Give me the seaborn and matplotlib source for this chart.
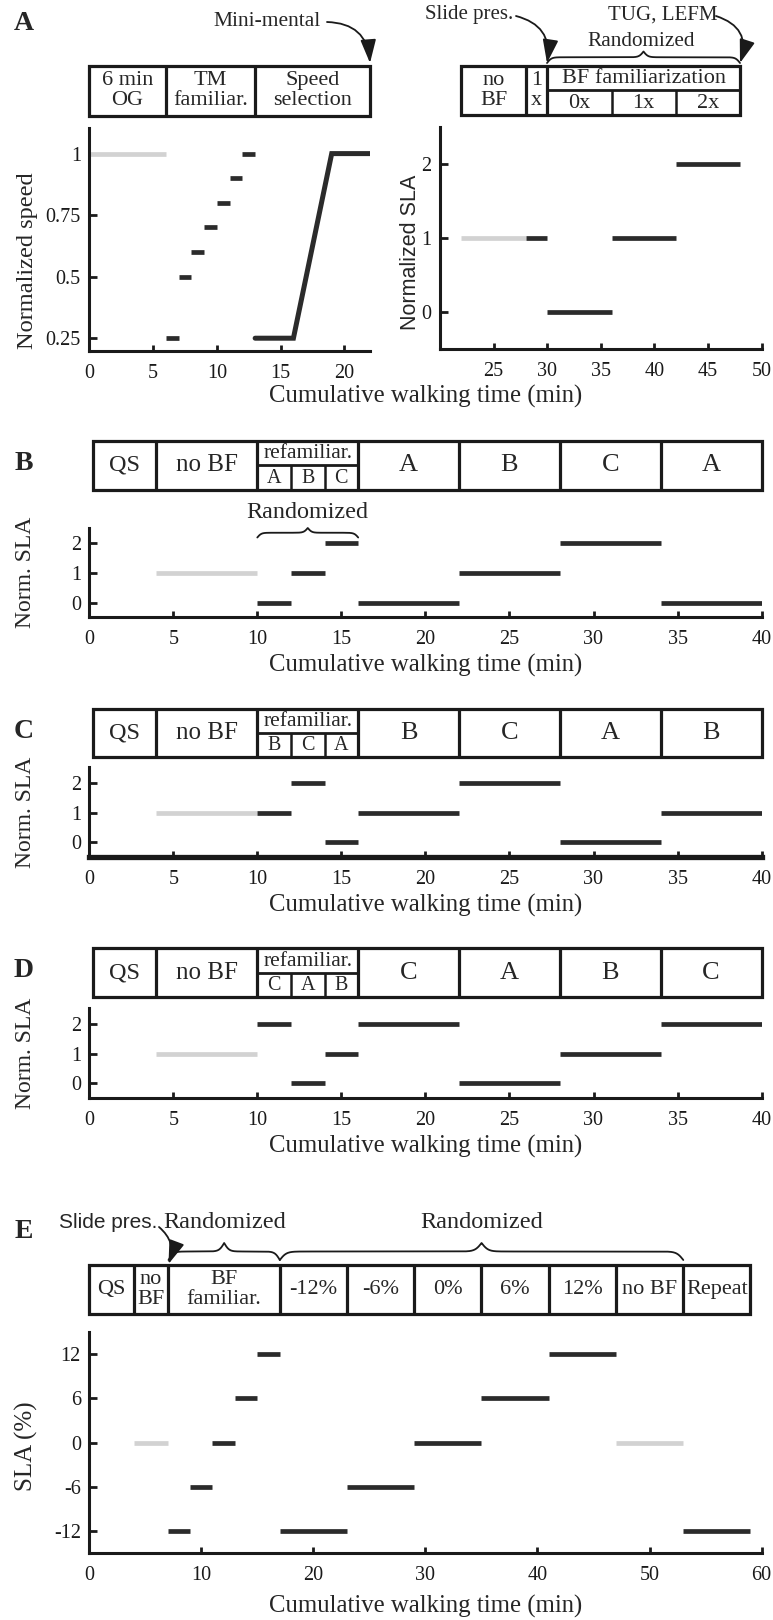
import numpy as np
import pandas as pd
import matplotlib
matplotlib.use("Agg")
import matplotlib.pyplot as plt
from matplotlib.patches import Rectangle
import seaborn as sns

sns.set_theme(style="white")
plt.rcParams['font.family'] = ['Liberation Serif', 'DejaVu Serif']
plt.rcParams['axes.unicode_minus'] = False

# ------------------------------------------------------------------ data
# Panel A (left): normalized speed
a_speed_start = [0, 6, 7, 8, 9, 10, 11, 12]
a_speed_end = [6, 7, 8, 9, 10, 11, 12, 13]
a_speed_level = [1.0, 0.25, 0.5, 0.6, 0.7, 0.8, 0.9, 1.0]
a_speed_kind = ['base', 'bf', 'bf', 'bf', 'bf', 'bf', 'bf', 'bf']
a_sel_time = [13, 16, 19, 22]
a_sel_speed = [0.25, 0.25, 1.0, 1.0]
a1_ticks = [0.25, 0.5, 0.75, 1.0]
a1_ticklabels = ['0.25', '0.5', '0.75', '1']

# Panel A (right): normalized SLA
a_sla_start = [22, 28, 30, 36, 42]
a_sla_end = [28, 30, 36, 42, 48]
a_sla_level = [1, 1, 0, 1, 2]
a_sla_kind = ['base', 'bf', 'bf', 'bf', 'bf']

# Panels B, C, D
bcd_start = [4, 10, 12, 14, 16, 22, 28, 34]
bcd_end = [10, 12, 14, 16, 22, 28, 34, 40]
b_level = [1, 0, 1, 2, 0, 1, 2, 0]
c_level = [1, 1, 2, 0, 1, 2, 0, 1]
d_level = [1, 2, 0, 1, 2, 0, 1, 2]
bcd_kind = ['base', 'bf', 'bf', 'bf', 'bf', 'bf', 'bf', 'bf']

# Panel E
e_start = [4, 7, 9, 11, 13, 15, 17, 23, 29, 35, 41, 47, 53]
e_end = [7, 9, 11, 13, 15, 17, 23, 29, 35, 41, 47, 53, 59]
e_level = [0, -12, -6, 0, 6, 12, -12, -6, 0, 6, 12, 0, -12]
e_kind = ['base', 'bf', 'bf', 'bf', 'bf', 'bf', 'bf', 'bf', 'bf', 'bf', 'bf', 'base', 'bf']
e_ticks = [-12, -6, 0, 6, 12]

# Schedules (protocol boxes)
a1_edges = [0, 6, 13, 22]
a1_labels = ['6 min\nOG', 'TM\nfamiliar.', 'Speed\nselection']
a2_edges = [22, 28, 30, 48]
a2_labels = ['no\nBF', '1\nx', 'BF familiarization']
a2_sub_edges = [30, 36, 42, 48]
a2_sub_labels = ['0x', '1x', '2x']
bcd_edges = [0.2, 4, 10, 16, 22, 28, 34, 40]
bcd_sub_edges = [10, 12, 14, 16]
b_labels = ['QS', 'no BF', 'refamiliar.', 'A', 'B', 'C', 'A']
b_sub_labels = ['A', 'B', 'C']
c_labels = ['QS', 'no BF', 'refamiliar.', 'B', 'C', 'A', 'B']
c_sub_labels = ['B', 'C', 'A']
d_labels = ['QS', 'no BF', 'refamiliar.', 'C', 'A', 'B', 'C']
d_sub_labels = ['C', 'A', 'B']
e_edges = [0, 4, 7, 17, 23, 29, 35, 41, 47, 53, 59]
e_labels = ['QS', 'no\nBF', 'BF\nfamiliar.', '-12%', '-6%', '0%', '6%', '12%', 'no BF', 'Repeat']

XLABEL = 'Cumulative walking time (min)'

# ------------------------------------------------------------------ style
W, H = 773, 1620
DARK = '#2b2b2b'
LIGHT = '#d2d2d2'
PAL = {'base': LIGHT, 'bf': DARK}
SERIF = ['Liberation Serif', 'DejaVu Serif']
SANS = ['Liberation Sans', 'DejaVu Sans']

fig = plt.figure(figsize=(W / 100, H / 100), dpi=100)
fig.patch.set_facecolor('white')


def add_px(l, t, r, b):
    return fig.add_axes([l / W, 1 - b / H, (r - l) / W, (b - t) / H])


def seg_frame(starts, ends, levels, kinds):
    rows = []
    for i, (s, e, v, k) in enumerate(zip(starts, ends, levels, kinds)):
        rows.append({'t': s, 'v': v, 'seg': i, 'kind': k})
        rows.append({'t': e, 'v': v, 'seg': i, 'kind': k})
    return pd.DataFrame(rows)


def plot_panel(rect, xlim, ylim, xticks, yticks, yticklabels, df, bottom_lw=2.2):
    ax = add_px(*rect)
    sns.lineplot(data=df, x='t', y='v', units='seg', estimator=None, hue='kind',
                 palette=PAL, linewidth=3.4, legend=False, ax=ax, sort=False,
                 solid_capstyle='butt')
    ax.set_xlim(*xlim)
    ax.set_ylim(*ylim)
    ax.set_xticks(xticks)
    ax.set_xticklabels([str(x) for x in xticks])
    ax.set_yticks(yticks)
    ax.set_yticklabels(yticklabels)
    ax.set_xlabel('')
    ax.set_ylabel('')
    for s in ['top', 'right']:
        ax.spines[s].set_visible(False)
    for s in ['left', 'bottom']:
        ax.spines[s].set_color('k')
        ax.spines[s].set_linewidth(2.2)
    ax.spines['bottom'].set_linewidth(bottom_lw)
    ax.patch.set_alpha(0)
    ax.tick_params(axis='both', which='major', direction='in', width=2.0,
                   colors='k', labelsize=14.5, bottom=True, left=True,
                   top=False, right=False)
    ax.tick_params(axis='x', length=4, pad=9)
    ax.tick_params(axis='y', length=6, pad=6)
    for lab in ax.get_xticklabels() + ax.get_yticklabels():
        lab.set_family(SERIF)
    return ax


def schedule(rect, xlim, edges, labels, fs, sub_edges=None, sub_labels=None,
             sub_index=None, sub_fs=None, label_fs=None, top_fs=None):
    ax = add_px(*rect)
    ax.set_xlim(*xlim)
    ax.set_ylim(0, 1)
    ax.axis('off')
    x0, x1 = edges[0], edges[-1]
    ax.add_patch(Rectangle((x0, 0), x1 - x0, 1, fill=False, lw=2.3, ec='k',
                           clip_on=False, joinstyle='miter'))
    for e in edges[1:-1]:
        ax.plot([e, e], [0, 1], color='k', lw=2.3, clip_on=False,
                solid_capstyle='butt')
    for i, (a, b, lab) in enumerate(zip(edges[:-1], edges[1:], labels)):
        size = fs
        if label_fs is not None and lab in label_fs:
            size = label_fs[lab]
        y = 0.5
        if sub_index is not None and i == sub_index:
            y = 0.74
            if top_fs is not None:
                size = top_fs
        ax.text((a + b) / 2, y, lab, ha='center', va='center', fontsize=size,
                family=SERIF, linespacing=1.05, clip_on=False)
    if sub_edges is not None:
        ax.plot([sub_edges[0], sub_edges[-1]], [0.5, 0.5], color='k', lw=2.0,
                clip_on=False, solid_capstyle='butt')
        for e in sub_edges[1:-1]:
            ax.plot([e, e], [0, 0.5], color='k', lw=1.8, clip_on=False,
                    solid_capstyle='butt')
        for a, b, lab in zip(sub_edges[:-1], sub_edges[1:], sub_labels):
            ax.text((a + b) / 2, 0.24, lab, ha='center', va='center',
                    fontsize=sub_fs or fs, family=SERIF, clip_on=False)
    return ax


# overlay in pixel coordinates for labels / annotations
ov = fig.add_axes([0, 0, 1, 1])
ov.set_xlim(0, W)
ov.set_ylim(H, 0)
ov.axis('off')


def brace(x0, x1, y_tip, y_peak, beta=0.45, lw=1.3):
    w = (x1 - x0) / 2.0
    xh = np.linspace(0, w, 300)
    yh = 1 / (1 + np.exp(-beta * xh)) + 1 / (1 + np.exp(-beta * (xh - w)))
    xs = np.concatenate([x0 + xh, x0 + w + xh])
    fr = np.concatenate([yh, yh[::-1]]) - 0.5
    ys = y_tip + fr * (y_peak - y_tip)
    ov.plot(xs, ys, color='k', lw=lw, solid_capstyle='round')


def arrow(start, end, rad=-0.4):
    ov.annotate('', xy=end, xytext=start,
                arrowprops=dict(arrowstyle='-|>,head_length=0.6,head_width=0.2',
                                color='k', lw=1.3,
                                mutation_scale=24, shrinkA=0, shrinkB=0,
                                connectionstyle='arc3,rad=%s' % rad))


def text(x, y, s, fs, family=SERIF, **kw):
    ov.text(x, y, s, fontsize=fs, family=family, ha='center', va='center', **kw)


# ------------------------------------------------------------------ panel A
XL = 89.2
XR = 761.6
A1 = (XL, 128, 370, 351)
A2 = (440, 126.7, XR, 349)

df_a1 = seg_frame(a_speed_start, a_speed_end, a_speed_level, a_speed_kind)
ax_a1 = plot_panel(A1, (0, 22), (0.198, 1.104), [0, 5, 10, 15, 20],
                   a1_ticks, a1_ticklabels, df_a1)
sns.lineplot(x=a_sel_time, y=a_sel_speed, color=DARK, linewidth=3.6,
             estimator=None, sort=False, ax=ax_a1, solid_joinstyle='miter')
ax_a1.set_xlabel('')
ax_a1.set_ylabel('')

df_a2 = seg_frame(a_sla_start, a_sla_end, a_sla_level, a_sla_kind)
ax_a2 = plot_panel(A2, (20, 50), (-0.497, 2.508), [25, 30, 35, 40, 45, 50],
                   [0, 1, 2], ['0', '1', '2'], df_a2)

schedule((A1[0], 65.7, A1[2], 115.7), (0, 22), a1_edges, a1_labels, 16)
schedule((A2[0], 65.7, A2[2], 115.0), (20, 50), a2_edges, a2_labels, 16,
         sub_edges=a2_sub_edges, sub_labels=a2_sub_labels, sub_index=2)

text(24, 23.5, 'A', 20, weight='bold')
text(27.5, 261, 'Normalized speed', 17.6, rotation=90)
text(410, 252, 'Normalized SLA', 15.5, family=SANS, rotation=90)
text(425.4, 396.7, XLABEL, 17.8)

text(267.5, 21.7, 'Mini-mental', 15.5)
arrow((327, 22), (370, 63), rad=-0.45)
text(469, 15, 'Slide pres.', 15)
arrow((516, 16), (547, 63), rad=-0.45)
text(662.5, 15, 'TUG, LEFM', 15)
arrow((716, 16), (740, 63), rad=-0.5)
text(641.5, 41.7, 'Randomized', 15.3)
brace(547, 740, 63, 51.5, beta=0.45)

# ------------------------------------------------------------------ panels B, C, D
YL_BCD = (-0.5, 2.53)
panels = [
    ('B', b_level, b_labels, b_sub_labels, 440.5, 490.0, 527.7, 617.3, 2.2),
    ('C', c_level, c_labels, c_sub_labels, 709.3, 757.3, 767.3, 857.3, 3.8),
    ('D', d_level, d_labels, d_sub_labels, 948.3, 997.3, 1008.3, 1098.3, 2.2),
]
xlab_y = {'B': 665, 'C': 905, 'D': 1146.7}
for name, lev, labs, sublabs, st, sb, pt, pb, blw in panels:
    df = seg_frame(bcd_start, bcd_end, lev, bcd_kind)
    plot_panel((XL, pt, XR, pb), (0, 40), YL_BCD, list(range(0, 41, 5)),
               [0, 1, 2], ['0', '1', '2'], df, bottom_lw=blw)
    schedule((XL, st, XR, sb), (0, 40), bcd_edges, labs, 19,
             sub_edges=bcd_sub_edges, sub_labels=sublabs, sub_index=2,
             sub_fs=14.5, top_fs=15.5, label_fs={'QS': 17.5, 'no BF': 18})
    text(23.5, (st + sb) / 2 - 2, name, 20, weight='bold')
    text(25.5, (pt + pb) / 2, 'Norm. SLA', 17, rotation=90)
    text(425.4, xlab_y[name], XLABEL, 17.8)

# B annotation
text(307.5, 512.7, 'Randomized', 17.4)
brace(257.3, 358.2, 537.5, 528, beta=0.5)

# ------------------------------------------------------------------ panel E
df_e = seg_frame(e_start, e_end, e_level, e_kind)
plot_panel((XL, 1331.7, XR, 1553.3), (0, 60), (-15, 15), list(range(0, 61, 10)),
           e_ticks, [str(v) for v in e_ticks], df_e)
schedule((XL, 1265.0, XR, 1314.3), (0, 60), e_edges, e_labels, 16)

text(23.5, 1231.7, 'E', 20, weight='bold')
text(26, 1446, 'SLA (%)', 18, rotation=90)
text(425.4, 1606.7, XLABEL, 17.8)
text(108, 1223, 'Slide pres.', 15, family=SANS)
arrow((159, 1227), (168.5, 1264), rad=-0.35)
text(225, 1223, 'Randomized', 17.5)
brace(168.5, 279.8, 1260, 1243, beta=0.4)
text(482, 1223, 'Randomized', 17.5)
brace(279.8, 683.3, 1260, 1243, beta=0.3)

fig.savefig('out.png', dpi=100, facecolor='white')
